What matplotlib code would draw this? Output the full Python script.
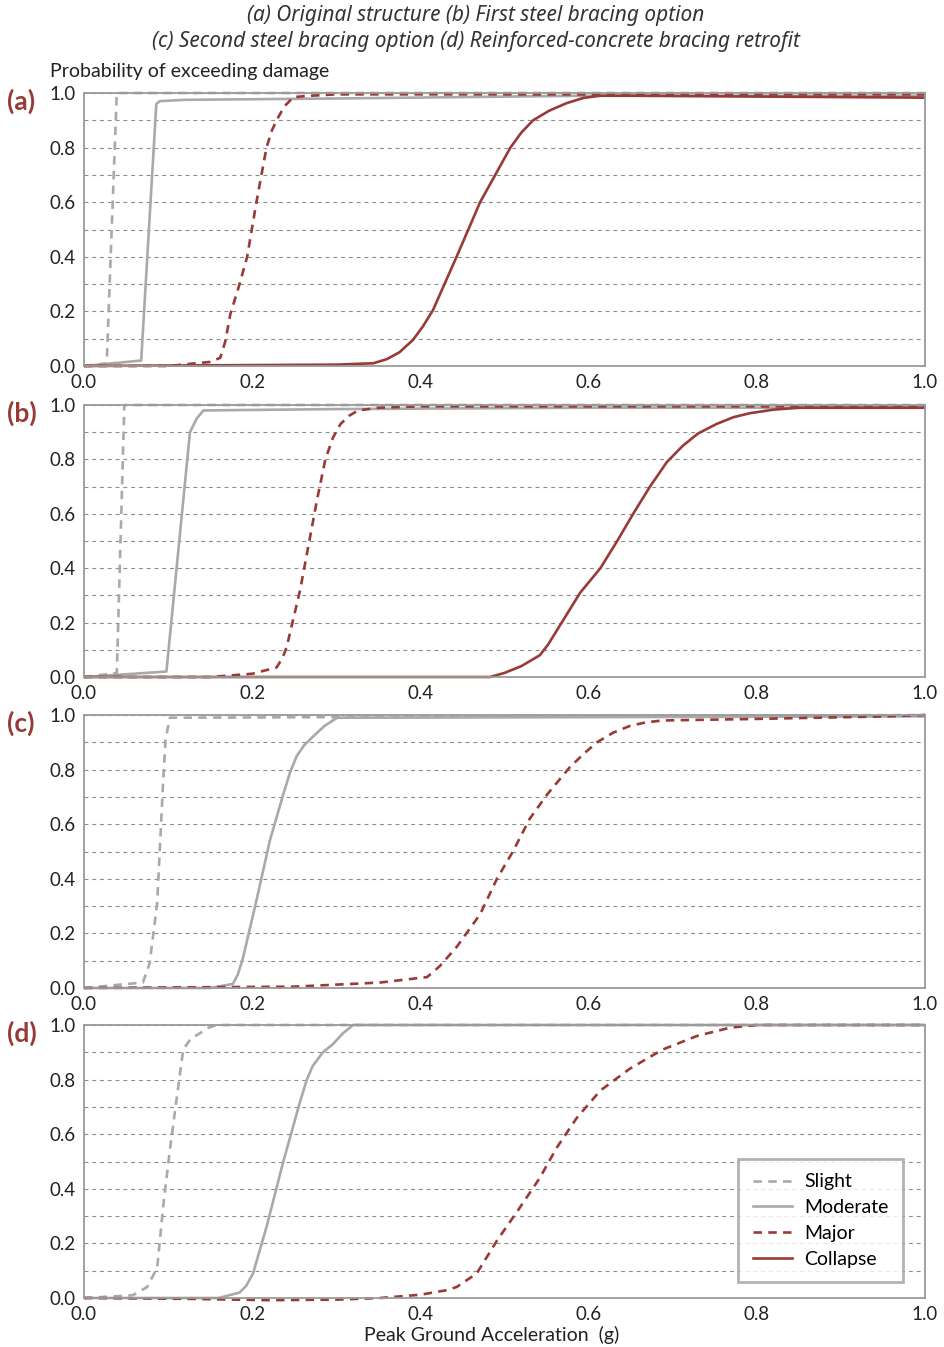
import numpy as np
import matplotlib.pyplot as plt
from matplotlib.ticker import MultipleLocator

# ── Fragility curves (x = PGA in g, y = probability) ──
# (a) Original structure
a_slight_x   = [0.0, 0.027, 0.039, 1.0]
a_slight_y   = [0.0, 0.01, 1.0, 1.0]
a_moderate_x = [0.0, 0.068, 0.086, 0.09, 0.12, 0.3, 0.6, 1.0]
a_moderate_y = [0.0, 0.02, 0.96, 0.97, 0.975, 0.98, 0.99, 0.99]
a_major_x    = [0.0, 0.10, 0.15, 0.162, 0.168, 0.174, 0.184, 0.194, 0.205, 0.217, 0.223,
                0.229, 0.238, 0.249, 0.27, 0.30, 1.0]
a_major_y    = [0.0, 0.0, 0.015, 0.03, 0.09, 0.19, 0.29, 0.40, 0.60, 0.80, 0.86,
                0.90, 0.95, 0.985, 0.99, 0.995, 0.995]
a_collapse_x = [0.0, 0.30, 0.344, 0.36, 0.375, 0.391, 0.403, 0.415, 0.443, 0.471, 0.507,
                0.52, 0.534, 0.553, 0.574, 0.594, 0.614, 0.65, 1.0]
a_collapse_y = [0.0, 0.005, 0.01, 0.025, 0.05, 0.095, 0.145, 0.205, 0.40, 0.60, 0.80,
                0.855, 0.90, 0.935, 0.963, 0.982, 0.99, 0.99, 0.983]

# (b) First steel bracing option
b_slight_x   = [0.0, 0.039, 0.048, 1.0]
b_slight_y   = [0.0, 0.015, 1.0, 1.0]
b_moderate_x = [0.0, 0.098, 0.126, 0.134, 0.142, 0.3, 0.6, 1.0]
b_moderate_y = [0.0, 0.02, 0.90, 0.95, 0.98, 0.985, 0.99, 0.99]
b_major_x    = [0.0, 0.15, 0.20, 0.229, 0.236, 0.241, 0.257, 0.277, 0.287, 0.296, 0.305,
                0.315, 0.326, 0.35, 0.40, 1.0]
b_major_y    = [0.0, 0.0, 0.012, 0.035, 0.07, 0.11, 0.32, 0.65, 0.80, 0.88, 0.93,
                0.96, 0.98, 0.99, 0.995, 0.995]
b_collapse_x = [0.0, 0.483, 0.50, 0.52, 0.542, 0.552, 0.562, 0.590, 0.614, 0.634, 0.653,
                0.673, 0.693, 0.712, 0.73, 0.752, 0.772, 0.792, 0.82, 0.851, 1.0]
b_collapse_y = [0.0, 0.0, 0.015, 0.04, 0.08, 0.12, 0.17, 0.31, 0.40, 0.50, 0.60,
                0.70, 0.79, 0.85, 0.895, 0.93, 0.955, 0.97, 0.983, 0.99, 0.99]

# (c) Second steel bracing option
c_slight_x   = [0.0, 0.070, 0.078, 0.087, 0.090, 0.094, 0.097, 0.102, 1.0]
c_slight_y   = [0.0, 0.02, 0.09, 0.31, 0.50, 0.75, 0.91, 0.99, 1.0]
c_moderate_x = [0.0, 0.15, 0.177, 0.183, 0.189, 0.205, 0.221, 0.237, 0.245, 0.253, 0.262,
                0.272, 0.286, 0.301, 1.0]
c_moderate_y = [0.0, 0.0, 0.015, 0.05, 0.11, 0.32, 0.54, 0.71, 0.79, 0.85, 0.89,
                0.92, 0.96, 0.99, 0.995]
c_major_x    = [0.0, 0.25, 0.352, 0.408, 0.423, 0.443, 0.471, 0.491, 0.510, 0.530, 0.551,
                0.578, 0.595, 0.610, 0.629, 0.649, 0.668, 0.688, 0.788, 0.955, 1.0]
c_major_y    = [0.0, 0.005, 0.02, 0.04, 0.08, 0.15, 0.27, 0.40, 0.50, 0.62, 0.71,
                0.81, 0.86, 0.90, 0.935, 0.96, 0.973, 0.98, 0.985, 0.995, 1.0]

# (d) Reinforced-concrete bracing retrofit
d_slight_x   = [0.0, 0.058, 0.075, 0.087, 0.094, 0.102, 0.111, 0.118, 0.127, 0.138,
                0.148, 0.158, 1.0]
d_slight_y   = [0.0, 0.01, 0.04, 0.11, 0.33, 0.54, 0.75, 0.91, 0.95, 0.97,
                0.99, 1.0, 1.0]
d_moderate_x = [0.0, 0.16, 0.185, 0.193, 0.201, 0.217, 0.237, 0.257, 0.265, 0.272,
                0.284, 0.296, 0.308, 0.320, 1.0]
d_moderate_y = [0.0, 0.0, 0.02, 0.045, 0.09, 0.26, 0.50, 0.72, 0.80, 0.85,
                0.90, 0.93, 0.97, 1.0, 1.0]
d_major_x    = [0.0, 0.12, 0.22, 0.30, 0.352, 0.40, 0.43, 0.443, 0.467, 0.491, 0.518,
                0.542, 0.562, 0.586, 0.614, 0.649, 0.688, 0.729, 0.768, 0.80, 1.0]
d_major_y    = [0.0, -0.003, -0.008, -0.006, 0.0, 0.012, 0.028, 0.04, 0.09, 0.21, 0.33,
                0.44, 0.55, 0.66, 0.76, 0.84, 0.91, 0.96, 0.99, 1.0, 1.0]

panel_tags = ['(a)', '(b)', '(c)', '(d)']
series_names = ['Slight', 'Moderate', 'Major', 'Collapse']
panels = [
    [(a_slight_x, a_slight_y), (a_moderate_x, a_moderate_y),
     (a_major_x, a_major_y), (a_collapse_x, a_collapse_y)],
    [(b_slight_x, b_slight_y), (b_moderate_x, b_moderate_y),
     (b_major_x, b_major_y), (b_collapse_x, b_collapse_y)],
    [(c_slight_x, c_slight_y), (c_moderate_x, c_moderate_y),
     (c_major_x, c_major_y), None],
    [(d_slight_x, d_slight_y), (d_moderate_x, d_moderate_y),
     (d_major_x, d_major_y), None],
]

GRAY = '#a9a9ab'
RED = '#983a36'
styles = {
    'Slight':   dict(color=GRAY, lw=1.9, dashes=(3.2, 2.4)),
    'Moderate': dict(color=GRAY, lw=1.9),
    'Major':    dict(color=RED, lw=1.9, dashes=(3.2, 2.4)),
    'Collapse': dict(color=RED, lw=1.9),
}

plt.rcParams['font.family'] = ['Lato', 'DejaVu Sans']

fig = plt.figure(figsize=(9.44, 13.47), dpi=100)

left, width = 84 / 944, 841 / 944
tops = [93, 405, 715, 1025]
heights = [273, 272, 273, 273]

axes = []
for i, (top, h) in enumerate(zip(tops, heights)):
    ax = fig.add_axes([left, 1 - (top + h) / 1347, width, h / 1347])
    axes.append(ax)
    ax.set_xlim(0, 1.0)
    ax.set_ylim(0, 1.0)
    ax.xaxis.set_major_locator(MultipleLocator(0.2))
    ax.yaxis.set_major_locator(MultipleLocator(0.2))
    ax.yaxis.set_minor_locator(MultipleLocator(0.1))
    ax.xaxis.set_major_formatter(plt.FuncFormatter(lambda v, p: f'{v:.1f}'))
    ax.yaxis.set_major_formatter(plt.FuncFormatter(lambda v, p: f'{v:.1f}'))
    ax.tick_params(axis='both', which='both', length=0, labelsize=13.5,
                   colors='#222222')
    ax.tick_params(axis='x', pad=6)
    ax.tick_params(axis='y', pad=6)
    ax.grid(axis='y', which='both', color='#8c8c8c', lw=0.8,
            linestyle=(0, (3.5, 3.5)))
    ax.set_axisbelow(True)
    for sp in ax.spines.values():
        sp.set_color('#9a9a9a')
        sp.set_linewidth(1.3)

    for name, curve in zip(series_names, panels[i]):
        if curve is None:
            continue
        ax.plot(curve[0], curve[1], label=name, clip_on=False,
                solid_capstyle='butt', solid_joinstyle='round', **styles[name])

    ax.text(-0.092, 0.97, panel_tags[i], transform=ax.transAxes,
            fontsize=19, fontweight='bold', color=RED, ha='left', va='center')

# legend entries for all four damage states in panel (d)
handles = [plt.Line2D([], [], **styles[n]) for n in series_names]
leg = axes[3].legend(handles, series_names, loc='lower right',
                     bbox_to_anchor=(0.974, 0.058), fontsize=14,
                     frameon=True, fancybox=False, handlelength=2.0,
                     handletextpad=0.65, borderpad=0.75, labelspacing=0.45,
                     borderaxespad=0)
leg.get_frame().set_edgecolor('#a0a0a0')
leg.get_frame().set_linewidth(2.0)

title_kw = dict(ha='center', va='center', fontsize=15, style='italic',
                color='#333333', family=['Noto Sans', 'DejaVu Sans'])
fig.text(476 / 944, 1 - 15 / 1347,
         '(a) Original structure (b) First steel bracing option', **title_kw)
fig.text(476 / 944, 1 - 41 / 1347,
         '(c) Second steel bracing option (d) Reinforced-concrete bracing retrofit',
         **title_kw)
fig.text(50 / 944, 1 - 71 / 1347, 'Probability of exceeding damage',
         ha='left', va='center', fontsize=14, color='#222222')
fig.text(492 / 944, 1 - 1335 / 1347, 'Peak Ground Acceleration  (g)',
         ha='center', va='center', fontsize=14, color='#222222')

fig.savefig('out.png', dpi=100)
